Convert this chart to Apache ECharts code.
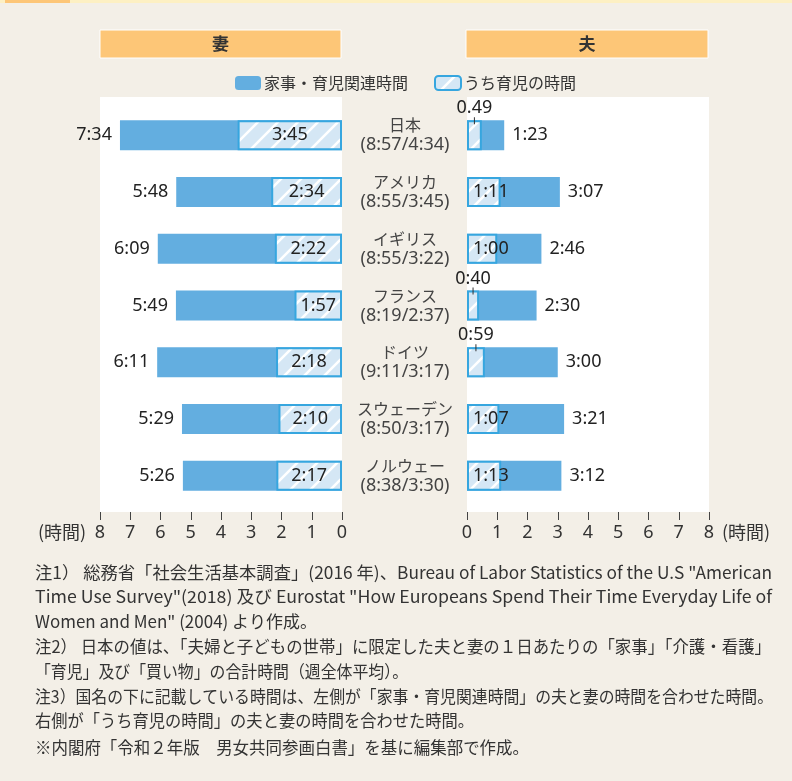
<!DOCTYPE html>
<html><head><meta charset="utf-8">
<script src="https://cdn.jsdelivr.net/npm/echarts@6/dist/echarts.min.js"></script>
<style>html,body{margin:0;padding:0;background:#f3efe7}#c{width:792px;height:781px}</style>
</head><body><div id="c"></div>
<script>
// ---- data ----
const countries = ['日本','アメリカ','イギリス','フランス','ドイツ','スウェーデン','ノルウェー'];
const combined = ['(8:57/4:34)','(8:55/3:45)','(8:55/3:22)','(8:19/2:37)','(9:11/3:17)','(8:50/3:17)','(8:38/3:30)'];
// bar lengths as drawn in the picture (hours)
const wifeTotal = [7.34, 5.48, 6.09, 5.49, 6.11, 5.29, 5.26];
const wifeChild = [3.45, 2.34, 2.22, 1.57, 2.18, 2.10, 2.17];
const husbandTotal = [1.23, 3.07, 2.46, 2.30, 3.00, 3.21, 3.12];
const husbandChild = [0.49, 1.11, 1.00, 0.40, 0.59, 1.07, 1.13];
// printed labels
const wifeTotalLabels = ['7:34','5:48','6:09','5:49','6:11','5:29','5:26'];
const wifeChildLabels = ['3:45','2:34','2:22','1:57','2:18','2:10','2:17'];
const husbandTotalLabels = ['1:23','3:07','2:46','2:30','3:00','3:21','3:12'];
const husbandChildLabels = ['0.49','1:11','1:00','0:40','0:59','1:07','1:13'];
const seriesNames = ['家事・育児関連時間','うち育児の時間'];
const panelTitles = ['妻','夫'];
const unitLabel = '(時間)';
const notes = [
  '注1） 総務省「社会生活基本調査」(2016 年)、Bureau of Labor Statistics of the U.S "American',
  'Time Use Survey"(2018) 及び Eurostat "How Europeans Spend Their Time Everyday Life of',
  'Women and Men" (2004) より作成。',
  '注2） 日本の値は、「夫婦と子どもの世帯」に限定した夫と妻の１日あたりの「家事」「介護・看護」',
  '「育児」及び「買い物」の合計時間（週全体平均）。',
  '注3）国名の下に記載している時間は、左側が「家事・育児関連時間」の夫と妻の時間を合わせた時間。',
  '右側が「うち育児の時間」の夫と妻の時間を合わせた時間。',
  '※内閣府「令和２年版　男女共同参画白書」を基に編集部で作成。'
];

// ---- styles ----
const FONT = "'Noto Sans','Noto Sans CJK JP',sans-serif";
const JFONT = "'Noto Sans CJK JP',sans-serif";
const BLUE = '#63aee0';
const BORDER = '#36a6df';
function makeHatch(){
  const c = document.createElement('canvas'); c.width = 20; c.height = 20;
  const g = c.getContext('2d');
  g.fillStyle = '#d5e7f5'; g.fillRect(0,0,20,20);
  g.strokeStyle = '#ffffff'; g.lineWidth = 2.5;
  g.beginPath();
  g.moveTo(-5,25); g.lineTo(25,-5);
  g.moveTo(-15,15); g.lineTo(15,-15);
  g.moveTo(5,35); g.lineTo(35,5);
  g.stroke();
  return c;
}
const hatch = {image: makeHatch(), repeat: 'repeat'};
const hatchStyle = {color: hatch, borderColor: BORDER, borderWidth: 2};
const numLabel = {fontFamily: FONT, fontSize: 18, color: '#222'};

const chart = echarts.init(document.getElementById('c'), null, {renderer: 'canvas'});

const xAxisCommon = {
  type: 'value', min: 0, max: 8, interval: 1, position: 'bottom', offset: 8,
  axisLine: {show: false}, splitLine: {show: false},
  axisTick: {show: true, length: 8, lineStyle: {color: '#444', width: 1}},
  axisLabel: {fontFamily: FONT, fontSize: 18, color: '#333', margin: 12}
};

const graphics = [
  {type: 'rect', shape: {x: 0, y: 0, width: 792, height: 3}, style: {fill: '#fdf0c3'}, z: -5},
  {type: 'rect', shape: {x: 5, y: 0, width: 65, height: 3}, style: {fill: '#fdc677'}, z: -4},
  {type: 'rect', shape: {x: 100, y: 97, width: 242, height: 415}, style: {fill: '#ffffff'}, z: -5},
  {type: 'rect', shape: {x: 467, y: 97, width: 242, height: 415}, style: {fill: '#ffffff'}, z: -5},
  {type: 'rect', shape: {x: 100, y: 30, width: 241, height: 28}, style: {fill: '#fdc677', stroke: '#fff', lineWidth: 1}},
  {type: 'rect', shape: {x: 466, y: 30, width: 242, height: 28}, style: {fill: '#fdc677', stroke: '#fff', lineWidth: 1}},
  {type: 'text', x: 220.5, y: 44, style: {text: panelTitles[0], font: "bold 17px 'Noto Sans CJK JP'", fill: '#333', align: 'center', verticalAlign: 'middle'}},
  {type: 'text', x: 587, y: 44, style: {text: panelTitles[1], font: "bold 17px 'Noto Sans CJK JP'", fill: '#333', align: 'center', verticalAlign: 'middle'}},
  {type: 'text', x: 38, y: 532, style: {text: unitLabel, font: "18px 'Noto Sans CJK JP'", fill: '#333', verticalAlign: 'middle'}},
  {type: 'text', x: 722, y: 532, style: {text: unitLabel, font: "18px 'Noto Sans CJK JP'", fill: '#333', verticalAlign: 'middle'}}
];
// fit each note line to the width it has in the reference
const NOTE_FONT = "17px 'Noto Sans CJK JP'";
const NOTE_X = 35;
const noteY = [573, 597, 622, 647, 672, 697, 721, 748];
const noteRight = [772, 772, 317, 771, 408, 773, 474, 529];
const mctx = document.createElement('canvas').getContext('2d');
mctx.font = NOTE_FONT;
notes.forEach((t, i) => {
  const w = mctx.measureText(t).width;
  graphics.push({
    type: 'text', x: NOTE_X, y: noteY[i], scaleX: (noteRight[i] - NOTE_X) / w,
    style: {text: t, font: NOTE_FONT, fill: '#333', verticalAlign: 'middle'}
  });
});

const option = {
  backgroundColor: '#f3efe7',
  animation: false,
  textStyle: {fontFamily: FONT},
  legend: {
    data: seriesNames, left: 230, top: 70, itemWidth: 26, itemHeight: 14, itemGap: 26,
    textStyle: {fontFamily: JFONT, fontSize: 16, color: '#333', padding: [0, 0, 0, -2]}
  },
  graphic: graphics,
  grid: [
    {left: 100, width: 242, top: 107, height: 397},
    {left: 467, width: 242, top: 107, height: 397}
  ],
  xAxis: [
    Object.assign({gridIndex: 0, inverse: true}, xAxisCommon),
    Object.assign({gridIndex: 1}, xAxisCommon)
  ],
  yAxis: [
    {gridIndex: 0, type: 'category', data: countries, inverse: true,
     axisLine: {show: false}, axisTick: {show: false}, axisLabel: {show: false}},
    {gridIndex: 1, type: 'category', data: countries, inverse: true, position: 'left',
     axisLine: {show: false}, axisTick: {show: false},
     axisLabel: {
       align: 'center', margin: 62,
       formatter: (v, i) => '{n|' + v + '}\n{p|' + combined[i] + '}',
       rich: {
         n: {fontFamily: JFONT, fontSize: 16, color: '#444', lineHeight: 20},
         p: {fontFamily: FONT, fontSize: 18, color: '#444', lineHeight: 20}
       }
     }}
  ],
  series: [
    {name: seriesNames[0], type: 'bar', xAxisIndex: 0, yAxisIndex: 0, data: wifeTotal,
     barWidth: 30, barGap: '-100%', itemStyle: {color: BLUE},
     label: Object.assign({show: true, position: 'left', distance: 8, formatter: p => wifeTotalLabels[p.dataIndex]}, numLabel)},
    {name: seriesNames[1], type: 'bar', xAxisIndex: 0, yAxisIndex: 0, data: wifeChild,
     barWidth: 30, barGap: '-100%', itemStyle: hatchStyle,
     label: Object.assign({show: true, position: 'inside', formatter: p => wifeChildLabels[p.dataIndex]}, numLabel)},
    {name: seriesNames[0], type: 'bar', xAxisIndex: 1, yAxisIndex: 1, data: husbandTotal,
     barWidth: 30, barGap: '-100%', itemStyle: {color: BLUE},
     label: Object.assign({show: true, position: 'right', distance: 8, formatter: p => husbandTotalLabels[p.dataIndex]}, numLabel)},
    {name: seriesNames[1], type: 'bar', xAxisIndex: 1, yAxisIndex: 1, barWidth: 30, barGap: '-100%',
     itemStyle: hatchStyle,
     data: husbandChild.map((v, i) => {
       const small = v < 0.7;
       return {
         value: v,
         label: small ? {
           show: true, position: 'top', distance: -4,
           formatter: '{v|' + husbandChildLabels[i] + '}\n{t|}',
           rich: {
             v: {fontFamily: FONT, fontSize: 18, color: '#222', lineHeight: 18},
             t: {width: 1, height: 7, backgroundColor: '#333'}
           }
         } : {
           show: true, position: 'insideLeft', distance: 6,
           formatter: husbandChildLabels[i]
         }
       };
     }),
     label: Object.assign({}, numLabel)}
  ]
};
chart.setOption(option);
</script></body></html>
